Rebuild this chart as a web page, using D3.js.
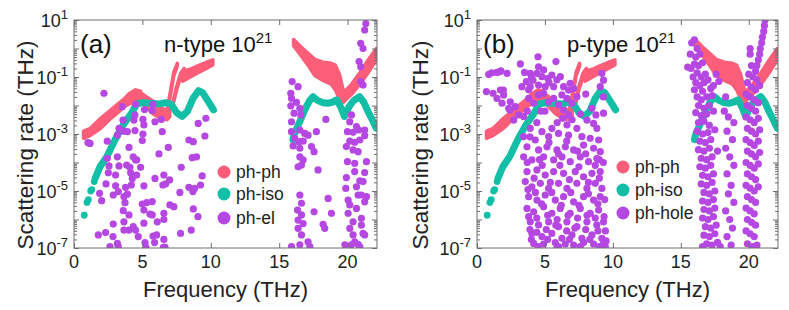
<!DOCTYPE html>
<html>
<head>
<meta charset="utf-8">
<script src="https://cdn.jsdelivr.net/npm/d3@7"></script>
<style>
  body { margin: 0; background: #fff; }
  text { font-family: Arial, "Liberation Sans", Helvetica, sans-serif; }
</style>
</head>
<body>
<script>
// values are [frequency (THz), log10(rate)] ; bands are [frequency, log10 low, log10 high]
const xTicks = [0, 5, 10, 15, 20];
const yLabelExps = [-7, -5, -3, -1, 1];

// ph-ph (identical in both panels), drawn as thick bands
const phph = [
  [[0.7,-3.15,-2.9],[1.2,-3.05,-2.8],[1.95,-2.8,-2.45],[2.7,-2.45,-2.15],[3.2,-2.25,-1.95],[3.65,-2.05,-1.78],[4.0,-1.95,-1.6],[4.5,-1.85,-1.45],[4.87,-1.75,-1.5]],
  [[4.87,-1.85,-1.55],[5.3,-2.05,-1.7],[5.8,-2.3,-1.85],[6.3,-2.45,-2.05],[6.8,-2.5,-2.2],[7.0,-2.4,-2.15]],
  [[6.8,-2.3,-2.15],[7.05,-1.65,-1.5],[7.3,-0.95,-0.82],[7.55,-0.62,-0.52]],
  [[7.25,-1.95,-1.85],[7.5,-1.45,-1.33],[7.8,-1.0,-0.87],[8.05,-0.82,-0.7]],
  [[7.95,-1.15,-0.8],[8.5,-1.0,-0.73],[9.0,-0.87,-0.62],[9.6,-0.72,-0.5],[10.15,-0.58,-0.4]],
  [[16.05,0.1,0.32],[16.6,-0.25,0.05],[17.2,-0.65,-0.2],[17.6,-0.95,-0.38],[18.2,-1.12,-0.48],[18.8,-1.25,-0.52],[19.1,-1.45,-0.58],[19.4,-1.75,-0.9],[19.7,-1.88,-1.5]],
  [[19.7,-1.88,-1.55],[20.3,-1.6,-1.25],[20.9,-1.25,-0.85],[21.5,-0.85,-0.4],[22.1,-0.4,0.0]]
];

// ph-iso (identical in both panels)
const isoDots = [[0.75,-5.85],[0.95,-5.4],[1.05,-5.3],[1.22,-5.0],[1.3,-4.95],[1.48,-4.67]];
const isoLeft = [[1.55,-4.55],[1.9,-4.15],[2.4,-3.8],[3.0,-3.2],[3.6,-2.68],[4.2,-2.27],[4.57,-1.95],[5.0,-1.9],[5.6,-1.92],[6.2,-1.95],[6.7,-1.9],[7.1,-1.95],[7.5,-2.25],[7.9,-2.38],[8.3,-2.2],[8.7,-1.75],[9.1,-1.48],[9.4,-1.55],[9.8,-1.85],[10.2,-2.15]];
const isoRight = [[16.0,-3.2],[16.1,-3.0],[16.4,-2.68],[16.86,-2.16],[17.2,-1.85],[17.47,-1.69],[17.8,-1.82],[18.2,-1.9],[18.6,-1.92],[18.9,-1.88],[19.2,-1.8],[19.5,-2.05],[19.78,-2.39],[20.1,-2.05],[20.4,-1.85],[20.88,-1.69],[21.2,-1.9],[21.5,-2.22],[21.8,-2.5],[22.1,-2.8]];

// ph-el, n-type
const phel = [
  [2.19,-1.57],[3.53,-2.04],[4.5,-1.96],[5.77,-1.96],[5.72,-2.18],[5.16,-2.14],[3.58,-2.51],[4.38,-2.51],[5.04,-2.49],[5.11,-2.68],
  [5.92,-2.57],[6.38,-2.49],[3.29,-2.8],[3.65,-2.9],[3.9,-2.92],[4.46,-2.88],[5.04,-3.0],[3.17,-3.04],[4.99,-3.23],[6.45,-2.92],
  [2.43,-3.25],[1.17,-3.33],[1.02,-3.3],[4.02,-3.47],[6.89,-3.47],[8.4,-3.21],[8.72,-3.27],[9.57,-3.07],[9.08,-2.63],[9.64,-2.45],
  [6.21,-3.7],[3.17,-3.8],[4.33,-3.8],[4.5,-3.91],[8.64,-3.83],[8.96,-3.8],[2.43,-3.85],[2.56,-4.12],[3.29,-4.12],[3.85,-4.09],
  [4.09,-4.17],[4.87,-4.17],[4.58,-3.91],[7.84,-4.17],[2.51,-4.36],[3.04,-4.44],[4.14,-4.36],[4.58,-4.44],[6.57,-4.44],[5.92,-4.56],
  [9.37,-4.47],[6.99,-4.61],[4.26,-4.56],[2.34,-4.75],[3.04,-4.82],[3.77,-4.87],[4.19,-4.79],[5.11,-4.82],[6.5,-4.79],[6.7,-4.75],
  [8.4,-4.87],[8.81,-4.91],[9.25,-4.79],[1.87,-5.08],[2.87,-5.14],[3.24,-5.02],[3.65,-5.2],[3.9,-5.11],[7.74,-5.05],[8.69,-5.02],
  [2.02,-5.34],[3.73,-5.41],[4.99,-5.46],[5.31,-5.41],[5.72,-5.37],[7.01,-5.49],[7.3,-5.55],[3.6,-5.69],[5.11,-5.67],[5.55,-5.81],
  [8.72,-5.63],[6.57,-5.78],[4.02,-5.84],[5.72,-5.84],[9.06,-5.9],[6.57,-6.0],[6.09,-6.08],[2.87,-6.16],[3.65,-6.08],[5.11,-6.13],
  [4.33,-6.25],[4.5,-6.37],[3.65,-6.37],[4.02,-6.37],[2.31,-6.46],[1.78,-6.54],[2.85,-6.6],[3.17,-6.84],[2.63,-6.95],[4.7,-6.6],
  [5.77,-6.58],[6.04,-6.54],[7.79,-6.49],[8.57,-6.37],[6.57,-6.7],[5.89,-6.81],[5.19,-6.81],[6.53,-6.98],[3.24,-6.95],[5.26,-6.98],
  [6.65,-6.97],[4.45,-2.33],
  [21.33,0.88],[21.25,0.65],[20.96,0.18],[21.13,0.0],[20.84,-0.46],[20.96,-0.64],[20.96,-1.16],[21.13,-1.28],[15.95,-1.16],[16.38,-1.34],
  [15.9,-1.75],[15.85,-1.57],[16.26,-1.89],[15.85,-2.01],[16.51,-2.1],[16.09,-2.27],[16.58,-2.33],[15.9,-2.57],[18.41,-2.49],[15.9,-2.92],
  [16.51,-2.86],[16.87,-2.98],[17.11,-3.04],[17.72,-2.92],[16.14,-3.15],[16.43,-3.27],[16.75,-3.25],[16.02,-3.42],[16.51,-3.5],[17.36,-3.44],
  [17.55,-3.62],[16.51,-3.8],[16.75,-3.91],[16.38,-4.15],[16.63,-4.09],[17.84,-4.26],[20.28,-2.33],[20.16,-2.57],[20.65,-2.74],[19.99,-2.92],
  [20.4,-2.94],[20.82,-2.86],[21.25,-2.86],[20.16,-3.25],[20.52,-3.29],[20.89,-3.21],[21.25,-3.06],[19.91,-3.44],[20.4,-3.56],[20.77,-3.62],
  [19.99,-3.97],[20.52,-4.03],[21.38,-3.97],[20.52,-4.32],[21.25,-4.35],[21.13,-4.67],[20.89,-4.64],[19.91,-4.53],[20.65,-4.85],[19.87,-4.91],
  [21.01,-5.14],[20.77,-5.14],[21.38,-5.2],[20.04,-5.32],[20.16,-5.49],[20.65,-5.61],[20.04,-5.78],[21.01,-5.96],[20.4,-6.08],[20.16,-6.31],
  [21.13,-6.49],[20.4,-6.54],[20.52,-6.78],[20.77,-6.87],[20.89,-6.95],[19.8,-6.89],[20.28,-6.89],[16.51,-5.14],[16.63,-5.43],[16.34,-5.67],
  [16.63,-5.84],[16.38,-6.02],[16.75,-6.14],[16.38,-6.31],[16.63,-6.54],[17.11,-6.78],[16.51,-6.89],[15.9,-6.95],[17.24,-6.95],[18.58,-5.26],
  [17.55,-5.73],[18.21,-6.17],[18.33,-6.31],[18.82,-5.78],[21.25,-5.38],[21.01,-6.2],[21.25,-6.54]
];

// ph-hole, p-type
const phhole = [
  [4.49,-0.29],[3.19,-0.54],[5.81,-0.46],[4.53,-0.64],[0.86,-0.91],[1.47,-0.84],[1.76,-0.78],[2.21,-0.87],[3.5,-0.84],[3.92,-0.87],
  [4.41,-0.87],[4.78,-0.99],[5.22,-1.05],[5.51,-0.93],[5.88,-1.1],[6.13,-0.99],[4.12,-1.11],[3.63,-1.16],[3.31,-1.34],[3.92,-1.34],
  [4.53,-1.28],[5.02,-1.34],[5.64,-1.34],[6.37,-1.34],[6.86,-1.22],[7.11,-1.4],[6.74,-1.46],[9.19,-0.87],[9.31,-1.11],[9.07,-1.34],
  [0.69,-1.51],[1.18,-1.57],[1.72,-1.46],[1.96,-1.63],[1.47,-1.75],[1.84,-1.92],[2.45,-1.87],[2.33,-2.1],[2.82,-2.04],[3.06,-2.33],
  [2.7,-2.51],[3.43,-2.39],[3.8,-1.75],[4.17,-1.92],[4.53,-1.63],[4.9,-1.57],[5.27,-1.87],[5.64,-1.75],[6.0,-1.98],[6.25,-1.63],
  [6.62,-1.75],[6.99,-1.92],[7.35,-1.69],[6.37,-2.16],[6.74,-2.33],[8.46,-2.1],[8.75,-2.33],[9.31,-2.27],[8.09,-2.51],[8.58,-2.63],
  [8.82,-2.8],[6.62,-2.68],[7.35,-2.8],[3.92,-2.8],[4.78,-2.92],[5.51,-2.8],[3.43,-3.09],[4.29,-3.21],[5.27,-3.09],[6.0,-2.98],
  [6.74,-3.04],[7.72,-3.09],[8.33,-3.15],[8.95,-3.21],[3.68,-3.45],[4.53,-3.56],[5.15,-3.45],[5.88,-3.56],[6.5,-3.45],[7.11,-3.56],
  [7.84,-3.39],[8.58,-3.5],[9.07,-3.62],[3.43,-3.8],[4.04,-3.91],[4.9,-3.8],[5.64,-3.91],[6.25,-3.8],[6.86,-3.97],[7.6,-3.8],
  [8.21,-3.97],[8.82,-3.86],[3.68,-4.32],[4.41,-4.26],[5.02,-4.44],[5.64,-4.32],[6.37,-4.38],[7.23,-4.32],[7.84,-4.5],[8.46,-4.38],
  [9.07,-4.32],[3.55,-4.67],[4.04,-4.85],[4.66,-4.73],[5.27,-4.91],[6.0,-4.73],[6.62,-4.91],[7.35,-4.73],[8.09,-4.91],[8.7,-4.73],
  [9.19,-4.91],[3.8,-5.2],[4.41,-5.32],[5.02,-5.14],[5.76,-5.32],[6.37,-5.2],[7.11,-5.38],[7.84,-5.2],[8.58,-5.32],[9.07,-5.2],
  [3.68,-5.61],[4.17,-5.73],[4.9,-5.55],[5.51,-5.78],[6.13,-5.61],[6.86,-5.78],[7.6,-5.61],[8.33,-5.78],[8.95,-5.67],[3.92,-6.08],
  [4.53,-6.19],[5.27,-6.08],[6.0,-6.25],[6.62,-6.08],[7.35,-6.25],[8.09,-6.08],[8.82,-6.19],[9.31,-6.08],[4.04,-6.49],[4.78,-6.6],
  [5.51,-6.49],[6.25,-6.66],[6.99,-6.54],[7.72,-6.66],[8.46,-6.54],[9.19,-6.66],[4.17,-6.84],[4.9,-6.86],[5.76,-6.81],[6.5,-6.86],
  [7.11,-6.9],[7.84,-6.81],[8.58,-6.86],[9.31,-6.84],[5.88,-7.01],[9.44,-6.95],[1.08,-0.85],[1.69,-0.81],[1.94,-1.46],[2.43,-2.16],
  [4.0,-1.0],[4.9,-0.75],[5.3,-1.2],[3.8,-1.45],[4.7,-2.2],[5.9,-2.6],[3.7,-2.2],[4.4,-2.6],[5.0,-2.2],[6.3,-2.45],
  [7.0,-2.5],[7.6,-2.3],[8.0,-1.6],[9.3,-1.7],[9.0,-3.9],[3.9,-3.1],[4.6,-3.9],[5.3,-3.3],[6.0,-3.7],[6.6,-3.25],
  [7.4,-3.6],[8.0,-3.7],[8.7,-4.1],[9.3,-4.0],[3.7,-4.0],[4.2,-4.55],[4.8,-4.1],[5.4,-4.7],[6.1,-4.1],[6.8,-4.6],
  [7.5,-4.15],[8.2,-4.7],[9.0,-4.55],[3.75,-4.95],[4.3,-5.05],[4.75,-5.45],[5.5,-5.05],[6.2,-5.5],[6.9,-5.05],[7.5,-5.5],
  [8.2,-5.1],[8.9,-5.45],[9.4,-5.3],[3.8,-5.9],[4.4,-5.95],[5.2,-5.85],[5.9,-6.0],[6.7,-5.85],[7.4,-5.95],[8.1,-5.85],
  [8.7,-5.95],[9.35,-5.9],[3.9,-6.35],[4.4,-6.45],[5.1,-6.35],[5.8,-6.2],[6.6,-6.4],[7.2,-6.3],[8.0,-6.35],[8.9,-6.4],
  [9.45,-6.4],[4.0,-6.7],[4.5,-6.95],[5.2,-6.7],[6.0,-6.95],[6.8,-6.7],[7.6,-6.95],[8.3,-6.7],[9.0,-6.95],[9.5,-6.75],
  [15.5,-0.65],[15.8,0.2],[16.0,0.3],[16.2,0.0],[15.7,-0.2],[16.1,-0.3],[16.4,-0.2],[16.0,-0.55],[15.75,-0.7],[16.3,-0.6],
  [16.6,-0.5],[16.2,-0.85],[15.9,-1.0],[16.5,-1.0],[16.8,-0.9],[16.1,-1.2],[16.4,-1.3],[16.7,-1.2],[17.0,-1.1],[16.0,-1.45],
  [16.6,-1.5],[17.2,-1.4],[17.6,-0.9],[17.8,-1.15],[17.4,-1.3],[16.2,-1.7],[16.5,-1.8],[16.9,-1.7],[17.3,-1.65],[16.3,-2.0],
  [16.7,-2.1],[17.1,-2.0],[16.1,-2.25],[16.5,-2.35],[16.9,-2.3],[17.4,-2.2],[16.3,-2.6],[16.7,-2.55],[17.1,-2.7],[16.2,-2.9],
  [16.6,-3.0],[17.0,-2.95],[17.5,-2.85],[16.4,-3.25],[16.8,-3.3],[17.2,-3.2],[16.3,-3.55],[16.7,-3.6],[17.1,-3.5],[16.5,-3.85],
  [16.9,-3.9],[17.3,-3.8],[17.7,-3.6],[16.4,-4.15],[16.8,-4.2],[17.2,-4.1],[16.6,-4.45],[17.0,-4.5],[17.4,-4.4],[16.5,-4.75],
  [16.9,-4.8],[17.3,-4.7],[16.7,-5.05],[17.1,-5.1],[17.5,-5.0],[16.6,-5.35],[17.0,-5.4],[17.4,-5.3],[16.7,-5.65],[17.1,-5.7],
  [17.5,-5.6],[16.6,-5.95],[17.0,-6.0],[17.4,-5.9],[16.8,-6.25],[17.2,-6.3],[17.6,-6.2],[16.7,-6.55],[17.1,-6.6],[17.5,-6.5],
  [16.9,-6.85],[17.3,-6.9],[17.7,-6.8],[16.6,-6.95],[17.9,-6.95],
  [18.3,-1.7],[18.2,-2.2],[18.5,-2.4],[18.9,-2.6],[18.4,-2.9],[18.8,-3.2],[18.3,-3.5],[18.6,-3.8],[18.9,-4.1],[18.4,-4.4],
  [18.7,-4.8],[18.5,-5.1],[18.9,-5.4],[18.3,-5.7],[18.6,-6.0],[18.8,-6.3],[18.4,-6.6],[18.7,-6.9],
  [21.2,1.0],[21.15,0.8],[21.1,0.6],[21.0,0.4],[20.95,0.2],[20.85,0.0],[20.8,-0.2],[20.1,0.0],[20.1,-0.2],[20.7,-0.4],
  [20.6,-0.6],[20.2,-0.6],[20.5,-0.8],[20.0,-0.9],[20.3,-1.0],[20.6,-1.1],[19.9,-1.2],[20.2,-1.35],[20.5,-1.45],[20.8,-1.3],
  [19.8,-1.6],[20.1,-1.7],[20.4,-1.8],[20.7,-1.9],[19.9,-2.0],[20.2,-2.1],[20.5,-2.2],[19.8,-2.4],[20.1,-2.5],[20.4,-2.6],
  [20.7,-2.45],[19.9,-2.8],[20.2,-2.9],[20.5,-3.0],[20.8,-2.85],[19.8,-3.2],[20.1,-3.3],[20.4,-3.4],[20.7,-3.25],[19.9,-3.6],
  [20.2,-3.7],[20.5,-3.8],[20.8,-3.65],[19.8,-4.0],[20.1,-4.1],[20.4,-4.2],[20.7,-4.05],[19.9,-4.4],[20.2,-4.5],[20.5,-4.6],
  [19.8,-4.8],[20.1,-4.9],[20.4,-5.0],[20.7,-4.85],[19.9,-5.2],[20.2,-5.3],[20.5,-5.4],[19.8,-5.6],[20.1,-5.7],[20.4,-5.8],
  [19.9,-6.0],[20.2,-6.1],[20.5,-6.2],[19.8,-6.4],[20.1,-6.5],[20.4,-6.6],[19.9,-6.85],[20.3,-6.95],[20.6,-6.9]
];

const colPh = "#fc5e7a", colIso = "#12bfa6", colEl = "#b548e3";
const axisCol = "#6e6e6e";

const width = 789, height = 310;
const yTop = 20, yBottom = 248;

const svg = d3.select("body").append("svg")
  .attr("width", width).attr("height", height)
  .attr("viewBox", [0, 0, width, height]);

const panels = [
  { key: "a", left: 74, right: 377, tag: "(a)", kind: "n-type", pts: phel, name: "ph-el", labX: 33, legX: 224, legY: [172, 194, 218] },
  { key: "b", left: 477, right: 778, tag: "(b)", kind: "p-type", pts: phhole, name: "ph-hole", labX: 428, legX: 623, legY: [167, 190, 213] }
];

const y = d3.scaleLog().domain([1e-7, 10]).range([yBottom, yTop]);
const p10 = e => Math.pow(10, e);

panels.forEach(p => {
  const x = d3.scaleLinear().domain([0, 22.15]).range([p.left, p.right]);
  const g = svg.append("g");

  g.append("clipPath").attr("id", "clip-" + p.key)
    .append("rect").attr("x", p.left).attr("y", yTop)
    .attr("width", p.right - p.left).attr("height", yBottom - yTop);

  const plot = g.append("g").attr("clip-path", `url(#clip-${p.key})`);

  // ph-ph bands
  const area = d3.area()
    .x(d => x(d[0])).y0(d => y(p10(d[1]))).y1(d => y(p10(d[2])));
  plot.append("g").selectAll("path").data(phph).join("path")
    .attr("d", area)
    .attr("fill", colPh).attr("stroke", colPh)
    .attr("stroke-width", 3.5).attr("stroke-linejoin", "round");

  // ph-iso
  const line = d3.line().x(d => x(d[0])).y(d => y(p10(d[1])));
  plot.append("g").selectAll("path").data([isoLeft, isoRight]).join("path")
    .attr("d", line).attr("fill", "none")
    .attr("stroke", colIso).attr("stroke-width", 7)
    .attr("stroke-linecap", "round").attr("stroke-linejoin", "round");
  plot.append("g").selectAll("circle").data(isoDots).join("circle")
    .attr("cx", d => x(d[0])).attr("cy", d => y(p10(d[1])))
    .attr("r", 3.4).attr("fill", colIso);

  // ph-el / ph-hole
  plot.append("g").selectAll("circle").data(p.pts).join("circle")
    .attr("cx", d => x(d[0])).attr("cy", d => y(p10(d[1])))
    .attr("r", 3.6).attr("fill", colEl);

  // axes box
  g.append("rect").attr("x", p.left).attr("y", yTop)
    .attr("width", p.right - p.left).attr("height", yBottom - yTop)
    .attr("fill", "none").attr("stroke", axisCol).attr("stroke-width", 1);

  const majors = d3.range(-7, 2).map(p10);
  const minors = [];
  d3.range(-7, 1).forEach(e => d3.range(2, 10).forEach(m => minors.push(m * p10(e))));

  const tickStyle = sel => {
    sel.select(".domain").remove();
    sel.selectAll("line").attr("stroke", axisCol);
  };

  g.append("g").attr("transform", `translate(${p.left},0)`)
    .call(d3.axisRight(y).tickValues(majors).tickSize(5).tickFormat(""))
    .call(tickStyle);
  g.append("g").attr("transform", `translate(${p.left},0)`)
    .call(d3.axisRight(y).tickValues(minors).tickSize(3).tickFormat(""))
    .call(tickStyle);
  g.append("g").attr("transform", `translate(${p.right},0)`)
    .call(d3.axisLeft(y).tickValues(majors).tickSize(5).tickFormat(""))
    .call(tickStyle);
  g.append("g").attr("transform", `translate(${p.right},0)`)
    .call(d3.axisLeft(y).tickValues(minors).tickSize(3).tickFormat(""))
    .call(tickStyle);
  g.append("g").attr("transform", `translate(0,${yBottom})`)
    .call(d3.axisTop(x).tickValues(xTicks).tickSize(5).tickFormat(""))
    .call(tickStyle);
  g.append("g").attr("transform", `translate(0,${yTop})`)
    .call(d3.axisBottom(x).tickValues(xTicks).tickSize(5).tickFormat(""))
    .call(tickStyle);

  // x tick labels
  g.append("g").selectAll("text").data(xTicks).join("text")
    .attr("x", d => x(d)).attr("y", 268)
    .attr("text-anchor", "middle").attr("font-size", 18).attr("fill", "#222")
    .text(d => d);

  // y tick labels 10^n
  const yl = g.append("g").selectAll("text").data(yLabelExps).join("text")
    .attr("x", p.left - 6).attr("y", d => y(p10(d)) + 7)
    .attr("text-anchor", "end").attr("font-size", 18).attr("fill", "#222");
  yl.append("tspan").text("10");
  yl.append("tspan").attr("dy", -8).attr("font-size", 13).text(d => d);

  // axis titles
  g.append("text")
    .attr("transform", `translate(${p.labX},145) rotate(-90)`)
    .attr("text-anchor", "middle").attr("font-size", 22.5).attr("fill", "#222")
    .text("Scattering rate (THz)");
  g.append("text")
    .attr("x", (p.left + p.right) / 2).attr("y", 297)
    .attr("text-anchor", "middle").attr("font-size", 22).attr("fill", "#222")
    .text("Frequency (THz)");

  // panel tag and title
  g.append("text").attr("x", p.left + 6).attr("y", 53)
    .attr("font-size", 26).attr("fill", "#111").text(p.tag);
  const t = g.append("text").attr("x", p.left + 90).attr("y", 52)
    .attr("font-size", 22).attr("fill", "#111");
  t.append("tspan").text(p.kind + " 10");
  t.append("tspan").attr("dy", -9).attr("font-size", 15).text("21");

  // legend
  const leg = [[colPh, "ph-ph"], [colIso, "ph-iso"], [colEl, p.name]];
  const lg = g.append("g").selectAll("g").data(leg).join("g")
    .attr("transform", (d, i) => `translate(${p.legX},${p.legY[i]})`);
  lg.append("circle").attr("r", 6.5).attr("fill", d => d[0]);
  lg.append("text").attr("x", 12).attr("y", 6)
    .attr("font-size", 17.5).attr("fill", "#222").text(d => d[1]);
});
</script>
</body>
</html>
